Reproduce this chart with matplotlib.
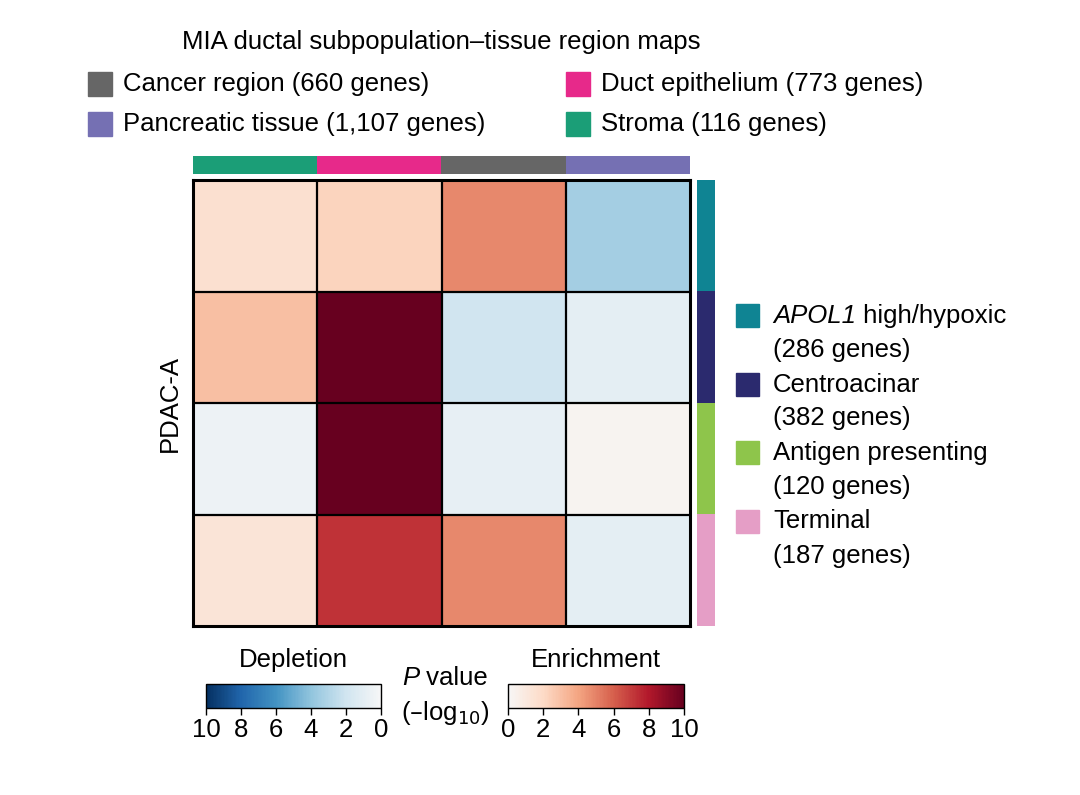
import numpy as np
import matplotlib
matplotlib.use('Agg')
import matplotlib.pyplot as plt
from matplotlib.colors import ListedColormap, Normalize
from matplotlib.patches import Rectangle
import matplotlib.colorbar as mcolorbar

plt.rcParams['font.family'] = ['Liberation Sans', 'DejaVu Sans']

# data: signed -log10 P (positive = enrichment, negative = depletion)
regions = ['Stroma', 'Duct epithelium', 'Cancer region', 'Pancreatic tissue']
region_colors = ['#1b9e77', '#e7298a', '#666666', '#7570b3']
subpops = ['APOL1 high/hypoxic', 'Centroacinar', 'Antigen presenting', 'Terminal']
subpop_colors = ['#0f8493', '#2b2a6e', '#8ec54b', '#e59ec6']
pvals = np.array([
    [1.6, 2.2, 4.8, -3.4],
    [3.0, 10.0, -2.0, -1.0],
    [-0.5, 10.0, -0.8, 0.3],
    [1.3, 7.2, 4.8, -1.0],
])
top_legend = [('Cancer region (660 genes)', '#666666'),
              ('Duct epithelium (773 genes)', '#e7298a'),
              ('Pancreatic tissue (1,107 genes)', '#7570b3'),
              ('Stroma (116 genes)', '#1b9e77')]
# (italic part, plain part, second line)
side_labels = [('APOL1', ' high/hypoxic', '(286 genes)'),
               ('', 'Centroacinar', '(382 genes)'),
               ('', 'Antigen presenting', '(120 genes)'),
               ('', 'Terminal', '(187 genes)')]

W, H = 1080, 795
fig = plt.figure(figsize=(W / 100, H / 100), dpi=100)
renderer = fig.canvas.get_renderer()

def ax_px(x0, y0, x1, y1):
    return fig.add_axes([x0 / W, 1 - y1 / H, (x1 - x0) / W, (y1 - y0) / H])

def mixed_text(x, y, ital, plain, ha='left'):
    # italic run followed by an upright run, positioned in pixels
    fs_ = fs
    t1 = fig.text(0, 0, ital, fontsize=fs_, style='italic', va='center')
    t2 = fig.text(0, 0, plain, fontsize=fs_, va='center')
    w1 = t1.get_window_extent(renderer).width if ital else 0
    w2 = t2.get_window_extent(renderer).width
    x0 = x - (w1 + w2) / 2 if ha == 'center' else x
    t1.set_position((x0 / W, 1 - y / H))
    t2.set_position(((x0 + w1) / W, 1 - y / H))

cmap = plt.get_cmap('RdBu_r')
fs = 18.5

# main heatmap
ax = ax_px(193, 180, 690, 626)
ax.imshow(pvals, cmap=cmap, vmin=-10, vmax=10, aspect='auto')
for k in range(1, 4):
    ax.axhline(k - 0.5, color='black', lw=1.6)
    ax.axvline(k - 0.5, color='black', lw=1.6)
ax.set_xticks([])
ax.set_yticks([])
for s in ax.spines.values():
    s.set_linewidth(2.2)
ax.set_ylabel('PDAC-A', fontsize=fs, labelpad=8)

# top annotation bar
axt = ax_px(193, 156, 690, 174)
axt.imshow(np.arange(4)[None, :], cmap=ListedColormap(region_colors), aspect='auto')
axt.axis('off')

# right annotation bar
axr = ax_px(697, 180, 715, 626)
axr.imshow(np.arange(4)[:, None], cmap=ListedColormap(subpop_colors), aspect='auto')
axr.axis('off')

fig.text(182 / W, 1 - 42 / H, 'MIA ductal subpopulation\u2013tissue region maps',
         fontsize=fs, va='center', ha='left')

# top legend
pos = [(88, 84), (566, 84), (88, 124), (566, 124)]
for (lab, col), (x, y) in zip(top_legend, pos):
    fig.patches.append(Rectangle((x / W, 1 - (y + 12) / H), 24 / W, 24 / H,
                                 color=col, transform=fig.transFigure))
    fig.text((x + 35) / W, 1 - y / H, lab, fontsize=fs, va='center', ha='left')

# side legend
for i, ((it, pl, l2), col) in enumerate(zip(side_labels, subpop_colors)):
    y = 316 + i * 68.5
    fig.patches.append(Rectangle((736 / W, 1 - (y + 11) / H), 23 / W, 23 / H,
                                 color=col, transform=fig.transFigure))
    mixed_text(773, y, it, pl)
    fig.text(773 / W, 1 - (y + 34) / H, l2, fontsize=fs, va='center', ha='left')

# colorbars
blue_cmap = ListedColormap(cmap(np.linspace(0, 0.5, 256)))
red_cmap = ListedColormap(cmap(np.linspace(0.5, 1, 256)))

axb = ax_px(206, 684, 381, 708)
cb1 = mcolorbar.ColorbarBase(axb, cmap=blue_cmap, norm=Normalize(-10, 0),
                             orientation='horizontal')
cb1.set_ticks([-10, -8, -6, -4, -2, 0])
cb1.set_ticklabels(['10', '8', '6', '4', '2', '0'])

axe = ax_px(508, 684, 684, 708)
cb2 = mcolorbar.ColorbarBase(axe, cmap=red_cmap, norm=Normalize(0, 10),
                             orientation='horizontal')
cb2.set_ticks([0, 2, 4, 6, 8, 10])

for c in (cb1, cb2):
    c.outline.set_linewidth(1.0)
    c.ax.tick_params(labelsize=fs, length=5, width=1, pad=2)

fig.text(293 / W, 1 - 660 / H, 'Depletion', fontsize=fs, ha='center', va='center')
fig.text(596 / W, 1 - 660 / H, 'Enrichment', fontsize=fs, ha='center', va='center')
mixed_text(445, 678, 'P', ' value', ha='center')
fig.text(445 / W, 1 - 713 / H, '(\u2013log$_{10}$)', fontsize=fs, ha='center', va='center')

fig.savefig('out.png', dpi=100, facecolor='white')
